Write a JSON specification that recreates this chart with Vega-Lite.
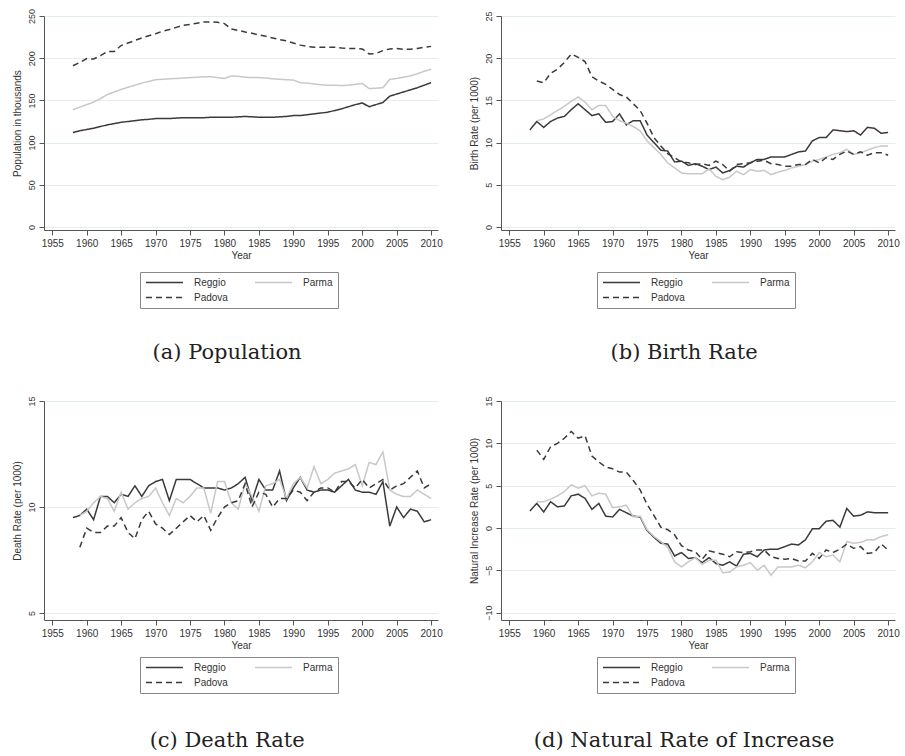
{
"$schema":"https://vega.github.io/schema/vega-lite/v6.json",
"background":"white",
"padding":{"left":12,"top":8,"right":5,"bottom":5},
"datasets":{"d":[
{"year":1958,"city":"Reggio","pop":112,"birth":11.5,"death":9.5,"natural":2.0},
{"year":1959,"city":"Reggio","pop":114,"birth":12.5,"death":9.6,"natural":2.9},
{"year":1960,"city":"Reggio","pop":115.5,"birth":11.8,"death":9.9,"natural":1.9},
{"year":1961,"city":"Reggio","pop":117,"birth":12.5,"death":9.4,"natural":3.1},
{"year":1962,"city":"Reggio","pop":119,"birth":12.9,"death":10.5,"natural":2.5},
{"year":1963,"city":"Reggio","pop":121,"birth":13.1,"death":10.5,"natural":2.6},
{"year":1964,"city":"Reggio","pop":122.5,"birth":13.9,"death":10.2,"natural":3.8},
{"year":1965,"city":"Reggio","pop":124,"birth":14.6,"death":10.6,"natural":4.0},
{"year":1966,"city":"Reggio","pop":125,"birth":13.9,"death":10.5,"natural":3.5},
{"year":1967,"city":"Reggio","pop":126,"birth":13.2,"death":11.0,"natural":2.2},
{"year":1968,"city":"Reggio","pop":127,"birth":13.4,"death":10.5,"natural":2.9},
{"year":1969,"city":"Reggio","pop":127.5,"birth":12.4,"death":11.0,"natural":1.4},
{"year":1970,"city":"Reggio","pop":128.5,"birth":12.5,"death":11.2,"natural":1.3},
{"year":1971,"city":"Reggio","pop":128.5,"birth":13.4,"death":11.3,"natural":2.2},
{"year":1972,"city":"Reggio","pop":128.5,"birth":12.1,"death":10.3,"natural":1.8},
{"year":1973,"city":"Reggio","pop":129,"birth":12.6,"death":11.3,"natural":1.4},
{"year":1974,"city":"Reggio","pop":129.5,"birth":12.6,"death":11.3,"natural":1.3},
{"year":1975,"city":"Reggio","pop":129.5,"birth":10.9,"death":11.3,"natural":-0.3},
{"year":1976,"city":"Reggio","pop":129.5,"birth":10.0,"death":11.1,"natural":-1.1},
{"year":1977,"city":"Reggio","pop":129.5,"birth":9.1,"death":10.9,"natural":-1.8},
{"year":1978,"city":"Reggio","pop":130,"birth":9.0,"death":10.9,"natural":-1.9},
{"year":1979,"city":"Reggio","pop":130,"birth":7.7,"death":10.9,"natural":-3.3},
{"year":1980,"city":"Reggio","pop":130,"birth":7.8,"death":10.8,"natural":-2.9},
{"year":1981,"city":"Reggio","pop":130,"birth":7.3,"death":10.9,"natural":-3.6},
{"year":1982,"city":"Reggio","pop":130.5,"birth":7.5,"death":11.1,"natural":-3.5},
{"year":1983,"city":"Reggio","pop":131,"birth":7.2,"death":11.4,"natural":-4.1},
{"year":1984,"city":"Reggio","pop":130.5,"birth":6.8,"death":10.3,"natural":-3.5},
{"year":1985,"city":"Reggio","pop":130,"birth":7.1,"death":11.3,"natural":-4.2},
{"year":1986,"city":"Reggio","pop":130,"birth":6.4,"death":10.8,"natural":-4.4},
{"year":1987,"city":"Reggio","pop":130,"birth":6.7,"death":10.8,"natural":-4.0},
{"year":1988,"city":"Reggio","pop":130.5,"birth":7.2,"death":11.7,"natural":-4.5},
{"year":1989,"city":"Reggio","pop":131,"birth":7.1,"death":10.3,"natural":-3.1},
{"year":1990,"city":"Reggio","pop":132,"birth":7.6,"death":10.9,"natural":-3.0},
{"year":1991,"city":"Reggio","pop":132,"birth":8.0,"death":11.4,"natural":-3.4},
{"year":1992,"city":"Reggio","pop":133,"birth":8.0,"death":10.8,"natural":-2.6},
{"year":1993,"city":"Reggio","pop":134,"birth":8.3,"death":10.7,"natural":-2.5},
{"year":1994,"city":"Reggio","pop":135,"birth":8.3,"death":10.8,"natural":-2.5},
{"year":1995,"city":"Reggio","pop":136,"birth":8.3,"death":10.8,"natural":-2.2},
{"year":1996,"city":"Reggio","pop":138,"birth":8.6,"death":10.7,"natural":-1.9},
{"year":1997,"city":"Reggio","pop":140,"birth":8.9,"death":11.0,"natural":-2.0},
{"year":1998,"city":"Reggio","pop":142.5,"birth":9.0,"death":11.3,"natural":-1.4},
{"year":1999,"city":"Reggio","pop":145,"birth":10.2,"death":10.8,"natural":-0.1},
{"year":2000,"city":"Reggio","pop":147,"birth":10.6,"death":10.7,"natural":-0.1},
{"year":2001,"city":"Reggio","pop":142.5,"birth":10.6,"death":10.7,"natural":0.8},
{"year":2002,"city":"Reggio","pop":145,"birth":11.5,"death":10.6,"natural":0.9},
{"year":2003,"city":"Reggio","pop":147.5,"birth":11.4,"death":11.2,"natural":0.1},
{"year":2004,"city":"Reggio","pop":155,"birth":11.3,"death":9.1,"natural":2.3},
{"year":2005,"city":"Reggio","pop":157.5,"birth":11.4,"death":10.0,"natural":1.4},
{"year":2006,"city":"Reggio","pop":160,"birth":10.9,"death":9.5,"natural":1.5},
{"year":2007,"city":"Reggio","pop":162.5,"birth":11.8,"death":9.9,"natural":1.9},
{"year":2008,"city":"Reggio","pop":165,"birth":11.7,"death":9.8,"natural":1.8},
{"year":2009,"city":"Reggio","pop":168,"birth":11.1,"death":9.3,"natural":1.8},
{"year":2010,"city":"Reggio","pop":171,"birth":11.2,"death":9.4,"natural":1.8},
{"year":1958,"city":"Parma","pop":139,"birth":null,"death":null,"natural":null},
{"year":1959,"city":"Parma","pop":142,"birth":12.6,"death":9.6,"natural":3.1},
{"year":1960,"city":"Parma","pop":145,"birth":12.8,"death":9.8,"natural":3.1},
{"year":1961,"city":"Parma","pop":148,"birth":13.3,"death":10.2,"natural":3.4},
{"year":1962,"city":"Parma","pop":152,"birth":13.8,"death":10.5,"natural":3.8},
{"year":1963,"city":"Parma","pop":157,"birth":14.3,"death":10.4,"natural":4.3},
{"year":1964,"city":"Parma","pop":160,"birth":14.9,"death":9.8,"natural":5.1},
{"year":1965,"city":"Parma","pop":163,"birth":15.4,"death":10.7,"natural":4.7},
{"year":1966,"city":"Parma","pop":165.5,"birth":14.8,"death":9.9,"natural":5.0},
{"year":1967,"city":"Parma","pop":168,"birth":13.9,"death":10.2,"natural":3.8},
{"year":1968,"city":"Parma","pop":170.5,"birth":14.4,"death":10.4,"natural":4.1},
{"year":1969,"city":"Parma","pop":172.5,"birth":14.4,"death":10.5,"natural":4.0},
{"year":1970,"city":"Parma","pop":174.5,"birth":13.1,"death":10.9,"natural":2.4},
{"year":1971,"city":"Parma","pop":175,"birth":12.6,"death":10.2,"natural":2.5},
{"year":1972,"city":"Parma","pop":175.5,"birth":12.3,"death":9.6,"natural":2.7},
{"year":1973,"city":"Parma","pop":176,"birth":11.9,"death":10.4,"natural":1.3},
{"year":1974,"city":"Parma","pop":176.5,"birth":11.4,"death":10.2,"natural":1.4},
{"year":1975,"city":"Parma","pop":177,"birth":10.2,"death":10.5,"natural":-0.2},
{"year":1976,"city":"Parma","pop":177.5,"birth":9.4,"death":10.9,"natural":-1.0},
{"year":1977,"city":"Parma","pop":178,"birth":8.6,"death":10.9,"natural":-1.6},
{"year":1978,"city":"Parma","pop":178,"birth":7.6,"death":9.7,"natural":-2.3},
{"year":1979,"city":"Parma","pop":177,"birth":7.0,"death":11.2,"natural":-4.0},
{"year":1980,"city":"Parma","pop":176,"birth":6.4,"death":11.2,"natural":-4.6},
{"year":1981,"city":"Parma","pop":179,"birth":6.3,"death":10.2,"natural":-4.0},
{"year":1982,"city":"Parma","pop":178.5,"birth":6.3,"death":9.9,"natural":-3.5},
{"year":1983,"city":"Parma","pop":177.5,"birth":6.3,"death":11.1,"natural":-4.3},
{"year":1984,"city":"Parma","pop":177,"birth":6.9,"death":10.5,"natural":-3.8},
{"year":1985,"city":"Parma","pop":177,"birth":6.0,"death":9.8,"natural":-3.8},
{"year":1986,"city":"Parma","pop":176.5,"birth":5.6,"death":11.0,"natural":-5.3},
{"year":1987,"city":"Parma","pop":175.5,"birth":5.9,"death":11.1,"natural":-5.2},
{"year":1988,"city":"Parma","pop":175,"birth":6.6,"death":11.3,"natural":-4.6},
{"year":1989,"city":"Parma","pop":174.5,"birth":6.2,"death":10.4,"natural":-4.4},
{"year":1990,"city":"Parma","pop":174,"birth":6.8,"death":11.1,"natural":-4.1},
{"year":1991,"city":"Parma","pop":171,"birth":6.6,"death":11.4,"natural":-5.0},
{"year":1992,"city":"Parma","pop":170.5,"birth":6.7,"death":10.9,"natural":-4.4},
{"year":1993,"city":"Parma","pop":169.5,"birth":6.2,"death":11.9,"natural":-5.6},
{"year":1994,"city":"Parma","pop":168.5,"birth":6.5,"death":11.1,"natural":-4.6},
{"year":1995,"city":"Parma","pop":168,"birth":6.7,"death":11.3,"natural":-4.6},
{"year":1996,"city":"Parma","pop":168,"birth":7.0,"death":11.6,"natural":-4.6},
{"year":1997,"city":"Parma","pop":167.5,"birth":7.2,"death":11.7,"natural":-4.4},
{"year":1998,"city":"Parma","pop":168,"birth":7.4,"death":11.8,"natural":-4.7},
{"year":1999,"city":"Parma","pop":169,"birth":7.8,"death":12.0,"natural":-4.0},
{"year":2000,"city":"Parma","pop":170,"birth":8.0,"death":11.0,"natural":-2.9},
{"year":2001,"city":"Parma","pop":164,"birth":8.3,"death":12.1,"natural":-3.4},
{"year":2002,"city":"Parma","pop":164.5,"birth":8.6,"death":12.0,"natural":-3.2},
{"year":2003,"city":"Parma","pop":165,"birth":8.8,"death":12.6,"natural":-4.0},
{"year":2004,"city":"Parma","pop":175,"birth":9.2,"death":10.8,"natural":-1.6},
{"year":2005,"city":"Parma","pop":176,"birth":8.6,"death":10.6,"natural":-1.8},
{"year":2006,"city":"Parma","pop":177.5,"birth":8.8,"death":10.5,"natural":-1.7},
{"year":2007,"city":"Parma","pop":179,"birth":9.1,"death":10.5,"natural":-1.4},
{"year":2008,"city":"Parma","pop":181.5,"birth":9.4,"death":10.8,"natural":-1.4},
{"year":2009,"city":"Parma","pop":184.5,"birth":9.6,"death":10.6,"natural":-1.0},
{"year":2010,"city":"Parma","pop":187,"birth":9.6,"death":10.4,"natural":-0.8},
{"year":1958,"city":"Padova","pop":191,"birth":null,"death":null,"natural":null},
{"year":1959,"city":"Padova","pop":195,"birth":17.3,"death":8.1,"natural":9.2},
{"year":1960,"city":"Padova","pop":199.5,"birth":17.1,"death":9.0,"natural":8.1},
{"year":1961,"city":"Padova","pop":199,"birth":18.2,"death":8.8,"natural":9.6},
{"year":1962,"city":"Padova","pop":203,"birth":18.7,"death":8.8,"natural":10.0},
{"year":1963,"city":"Padova","pop":208,"birth":19.5,"death":9.1,"natural":10.6},
{"year":1964,"city":"Padova","pop":208,"birth":20.5,"death":9.1,"natural":11.4},
{"year":1965,"city":"Padova","pop":215,"birth":20.1,"death":9.5,"natural":10.6},
{"year":1966,"city":"Padova","pop":218,"birth":19.6,"death":8.8,"natural":10.9},
{"year":1967,"city":"Padova","pop":221,"birth":17.8,"death":8.5,"natural":8.5},
{"year":1968,"city":"Padova","pop":224,"birth":17.3,"death":9.4,"natural":7.8},
{"year":1969,"city":"Padova","pop":226.5,"birth":16.9,"death":9.8,"natural":7.2},
{"year":1970,"city":"Padova","pop":229,"birth":16.3,"death":9.2,"natural":7.0},
{"year":1971,"city":"Padova","pop":232,"birth":15.7,"death":9.0,"natural":6.6},
{"year":1972,"city":"Padova","pop":234,"birth":15.4,"death":8.7,"natural":6.6},
{"year":1973,"city":"Padova","pop":236.5,"birth":14.6,"death":9.0,"natural":5.6},
{"year":1974,"city":"Padova","pop":239,"birth":13.8,"death":9.3,"natural":4.5},
{"year":1975,"city":"Padova","pop":240,"birth":12.3,"death":9.6,"natural":2.8},
{"year":1976,"city":"Padova","pop":241.5,"birth":10.6,"death":9.3,"natural":1.5},
{"year":1977,"city":"Padova","pop":243,"birth":9.6,"death":9.6,"natural":0.1},
{"year":1978,"city":"Padova","pop":243,"birth":8.7,"death":8.9,"natural":-0.2},
{"year":1979,"city":"Padova","pop":242.5,"birth":8.2,"death":9.5,"natural":-0.8},
{"year":1980,"city":"Padova","pop":241,"birth":7.7,"death":10.0,"natural":-2.1},
{"year":1981,"city":"Padova","pop":234.5,"birth":7.6,"death":10.2,"natural":-2.6},
{"year":1982,"city":"Padova","pop":233,"birth":7.4,"death":10.3,"natural":-2.8},
{"year":1983,"city":"Padova","pop":231,"birth":7.5,"death":11.1,"natural":-3.7},
{"year":1984,"city":"Padova","pop":229.5,"birth":7.3,"death":10.0,"natural":-2.7},
{"year":1985,"city":"Padova","pop":227.5,"birth":7.8,"death":10.7,"natural":-2.9},
{"year":1986,"city":"Padova","pop":226,"birth":7.4,"death":10.6,"natural":-3.1},
{"year":1987,"city":"Padova","pop":224,"birth":6.6,"death":10.0,"natural":-3.4},
{"year":1988,"city":"Padova","pop":222,"birth":7.4,"death":10.4,"natural":-2.8},
{"year":1989,"city":"Padova","pop":220.5,"birth":7.5,"death":10.4,"natural":-2.9},
{"year":1990,"city":"Padova","pop":218,"birth":7.6,"death":10.8,"natural":-2.8},
{"year":1991,"city":"Padova","pop":215.5,"birth":7.8,"death":10.7,"natural":-2.6},
{"year":1992,"city":"Padova","pop":214,"birth":7.9,"death":10.3,"natural":-2.6},
{"year":1993,"city":"Padova","pop":213,"birth":7.5,"death":10.7,"natural":-3.4},
{"year":1994,"city":"Padova","pop":213,"birth":7.4,"death":10.9,"natural":-3.6},
{"year":1995,"city":"Padova","pop":213,"birth":7.2,"death":10.9,"natural":-3.7},
{"year":1996,"city":"Padova","pop":213,"birth":7.2,"death":10.7,"natural":-3.6},
{"year":1997,"city":"Padova","pop":212,"birth":7.4,"death":11.2,"natural":-3.9},
{"year":1998,"city":"Padova","pop":211.5,"birth":7.4,"death":11.2,"natural":-3.9},
{"year":1999,"city":"Padova","pop":211.5,"birth":8.0,"death":10.9,"natural":-3.0},
{"year":2000,"city":"Padova","pop":211,"birth":7.6,"death":11.3,"natural":-3.6},
{"year":2001,"city":"Padova","pop":205,"birth":8.2,"death":10.9,"natural":-2.6},
{"year":2002,"city":"Padova","pop":205.5,"birth":8.0,"death":11.1,"natural":-2.9},
{"year":2003,"city":"Padova","pop":209,"birth":8.6,"death":11.3,"natural":-2.5},
{"year":2004,"city":"Padova","pop":211,"birth":9.0,"death":10.8,"natural":-1.9},
{"year":2005,"city":"Padova","pop":211.5,"birth":8.6,"death":11.0,"natural":-2.4},
{"year":2006,"city":"Padova","pop":210.5,"birth":8.9,"death":11.1,"natural":-2.2},
{"year":2007,"city":"Padova","pop":210.5,"birth":8.5,"death":11.4,"natural":-3.0},
{"year":2008,"city":"Padova","pop":211.5,"birth":8.8,"death":11.7,"natural":-2.9},
{"year":2009,"city":"Padova","pop":213,"birth":8.8,"death":10.9,"natural":-1.9},
{"year":2010,"city":"Padova","pop":214,"birth":8.5,"death":11.1,"natural":-2.6}
]},
"data":{"name":"d"},
"columns":2,
"bounds":"flush",
"spacing":{"row":171,"column":63},
"resolve":{"scale":{"color":"independent","strokeDash":"independent"},"legend":{"color":"independent","strokeDash":"independent"}},
"concat":[
  {"width":394,"height":214,
   "title":{"text":"(a) Population"},
   "mark":{"type":"line","strokeWidth":1.5},
   "encoding":{
    "x":{"field":"year","type":"quantitative","title":"Year","scale":{"domain":[1953.8,2011],"nice":false,"zero":false},"axis":{"values":[1955,1960,1965,1970,1975,1980,1985,1990,1995,2000,2005,2010],"format":"d","grid":false}},
    "y":{"field":"pop","type":"quantitative","title":"Population in thousands","scale":{"domain":[-3.6,250],"nice":false,"zero":false},"axis":{"values":[0,50,100,150,200,250]}},
    "color":{"field":"city","type":"nominal","scale":{"domain":["Reggio","Padova","Parma"],"range":["#3a3a3a","#3a3a3a","#c8c8c8"]}},
    "strokeDash":{"field":"city","type":"nominal","scale":{"domain":["Reggio","Padova","Parma"],"range":[[1,0],[6,4],[1,0]]}}}},
  {"width":394,"height":214,
   "title":{"text":"(b) Birth Rate"},
   "mark":{"type":"line","strokeWidth":1.5},
   "encoding":{
    "x":{"field":"year","type":"quantitative","title":"Year","scale":{"domain":[1953.8,2011],"nice":false,"zero":false},"axis":{"values":[1955,1960,1965,1970,1975,1980,1985,1990,1995,2000,2005,2010],"format":"d","grid":false}},
    "y":{"field":"birth","type":"quantitative","title":"Birth Rate (per 1000)","scale":{"domain":[-0.36,25],"nice":false,"zero":false},"axis":{"values":[0,5,10,15,20,25]}},
    "color":{"field":"city","type":"nominal","scale":{"domain":["Reggio","Padova","Parma"],"range":["#3a3a3a","#3a3a3a","#c8c8c8"]}},
    "strokeDash":{"field":"city","type":"nominal","scale":{"domain":["Reggio","Padova","Parma"],"range":[[1,0],[6,4],[1,0]]}}}},
  {"width":394,"height":219,
   "title":{"text":"(c) Death Rate","offset":36},
   "mark":{"type":"line","strokeWidth":1.5},
   "encoding":{
    "x":{"field":"year","type":"quantitative","title":"Year","scale":{"domain":[1953.8,2011],"nice":false,"zero":false},"axis":{"values":[1955,1960,1965,1970,1975,1980,1985,1990,1995,2000,2005,2010],"format":"d","grid":false}},
    "y":{"field":"death","type":"quantitative","title":"Death Rate (per 1000)","scale":{"domain":[4.67,15],"nice":false,"zero":false},"axis":{"values":[5,10,15]}},
    "color":{"field":"city","type":"nominal","scale":{"domain":["Reggio","Padova","Parma"],"range":["#3a3a3a","#3a3a3a","#c8c8c8"]}},
    "strokeDash":{"field":"city","type":"nominal","scale":{"domain":["Reggio","Padova","Parma"],"range":[[1,0],[6,4],[1,0]]}}}},
  {"width":394,"height":219,
   "title":{"text":"(d) Natural Rate of Increase","offset":36},
   "mark":{"type":"line","strokeWidth":1.5},
   "encoding":{
    "x":{"field":"year","type":"quantitative","title":"Year","scale":{"domain":[1953.8,2011],"nice":false,"zero":false},"axis":{"values":[1955,1960,1965,1970,1975,1980,1985,1990,1995,2000,2005,2010],"format":"d","grid":false}},
    "y":{"field":"natural","type":"quantitative","title":"Natural Increase Rate (per 1000)","scale":{"domain":[-10.87,15],"nice":false,"zero":false},"axis":{"values":[-10,-5,0,5,10,15]}},
    "color":{"field":"city","type":"nominal","scale":{"domain":["Reggio","Padova","Parma"],"range":["#3a3a3a","#3a3a3a","#c8c8c8"]}},
    "strokeDash":{"field":"city","type":"nominal","scale":{"domain":["Reggio","Padova","Parma"],"range":[[1,0],[6,4],[1,0]]}}}}
],
"config":{
 "view":{"stroke":null},
 "axis":{"labelFont":"Liberation Sans","titleFont":"Liberation Sans","labelFontSize":10,"titleFontSize":10,"titleFontWeight":"normal","labelColor":"#333","titleColor":"#333","domainColor":"#555","tickColor":"#555","tickSize":5,"labelPadding":3,"gridColor":"#e3eded","gridWidth":1},
 "axisX":{"titlePadding":2},
 "axisY":{"labelAngle":-90,"labelAlign":"center","labelBaseline":"bottom","titlePadding":5,"labelFontSize":9},
 "legend":{"orient":"none","legendX":96,"legendY":256,"columns":2,"title":null,"symbolType":"stroke","symbolSize":1369,"symbolStrokeWidth":1.5,"clipHeight":11,"rowPadding":4,"columnPadding":26,"labelOffset":10,"labelFont":"Liberation Sans","labelFontSize":10,"labelColor":"#333","padding":5,"strokeColor":"#888","fillColor":"white","cornerRadius":0},
 "title":{"orient":"bottom","anchor":"middle","frame":"bounds","font":"DejaVu Serif","fontSize":21,"fontWeight":"normal","color":"#222","offset":33}
}
}
